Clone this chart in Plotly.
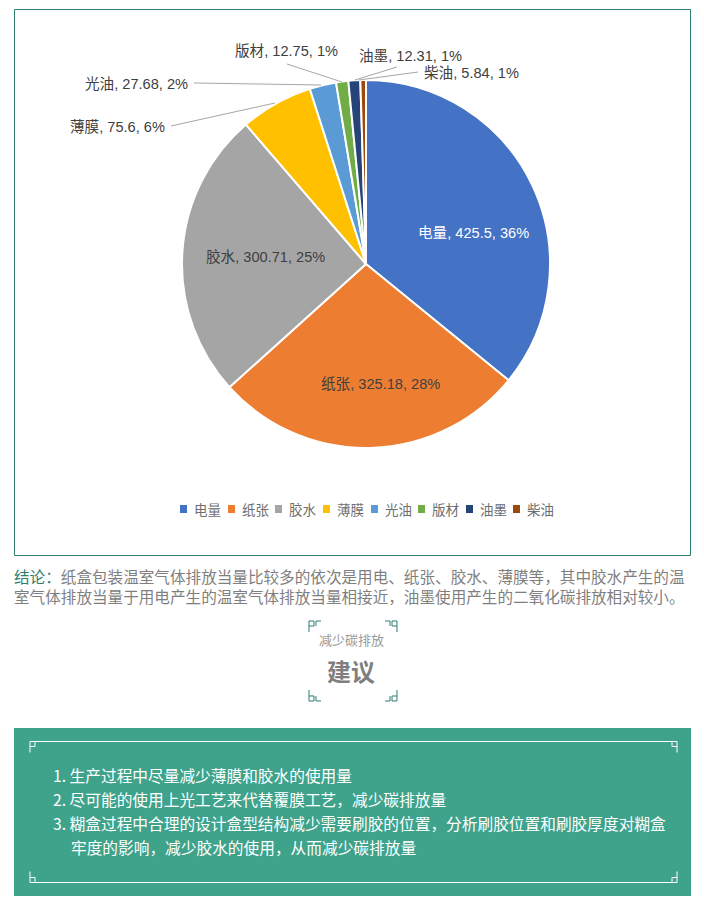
import plotly.graph_objects as go

categories = ["电量", "纸张", "胶水", "薄膜", "光油", "版材", "油墨", "柴油"]
values = [425.5, 325.18, 300.71, 75.6, 27.68, 12.75, 12.31, 5.84]
shown_percent = [36, 28, 25, 6, 2, 1, 1, 1]
colors = ["#4472C4", "#ED7D31", "#A5A5A5", "#FFC000", "#5B9BD5", "#70AD47", "#264478", "#9E480E"]

conclusion_head = "结论："
conclusion_line1 = "纸盒包装温室气体排放当量比较多的依次是用电、纸张、胶水、薄膜等，其中胶水产生的温"
conclusion_line2 = "室气体排放当量于用电产生的温室气体排放当量相接近，油墨使用产生的二氧化碳排放相对较小。"
advice_sub = "减少碳排放"
advice_title = "建议"
advice_lines = [
    "1. 生产过程中尽量减少薄膜和胶水的使用量",
    "2. 尽可能的使用上光工艺来代替覆膜工艺，减少碳排放量",
    "3. 糊盒过程中合理的设计盒型结构减少需要刷胶的位置，分析刷胶位置和刷胶厚度对糊盒",
    "牢度的影响，减少胶水的使用，从而减少碳排放量",
]

W, H = 704, 904
FONT = "Liberation Sans, Noto Sans CJK SC, sans-serif"
CJK = "Noto Sans CJK SC, sans-serif"
GREEN = "#3FA38C"
FRAME = "#2E7D6F"
GRAY = "#7F7F7F"
DARK = "#404040"


def px(x):
    return x / W


def py(y):
    return 1 - y / H


shapes, ann = [], []


def rect(x0, y0, x1, y1, fill=None, line=None, lw=1):
    shapes.append(dict(type="rect", xref="paper", yref="paper", x0=px(x0), x1=px(x1), y0=py(y0), y1=py(y1),
                       fillcolor=fill or "rgba(0,0,0,0)", line=dict(color=line, width=lw if line else 0), layer="below"))


def path(points, color, lw=1):
    d = "M" + " L".join(f"{px(a):.5f},{py(b):.5f}" for a, b in points)
    shapes.append(dict(type="path", xref="paper", yref="paper", path=d, line=dict(color=color, width=lw)))


def text(x, y, s, size=14, color=DARK, anchor="left", bold=False, family=FONT):
    ann.append(dict(xref="paper", yref="paper", x=px(x), y=py(y), text=f"<b>{s}</b>" if bold else s, showarrow=False,
                    xanchor=anchor, yanchor="middle", align="left" if anchor == "left" else "center",
                    borderpad=0, borderwidth=0, font=dict(size=size, color=color, family=family)))


def fret(cx, cy, sx, sy, color, lw=1, arm=True):
    pts = [(0, 11), (0, 0), (5, 0), (5, 5), (0, 5)]
    path([(cx + sx * a, cy + sy * b) for a, b in pts], color, lw)
    if arm:
        path([(cx + sx * 12, cy), (cx + sx * 7, cy), (cx + sx * 7, cy + sy * 5)], color, lw)


# chart frame
rect(14.5, 9.5, 690.5, 555.5, line=FRAME, lw=1)

# data labels
label_text = [f"{c}, {v}, {p}%" for c, v, p in zip(categories, values, shown_percent)]
label_spec = [
    (473, 233, "center", "#FFFFFF"),
    (380, 384, "center", DARK),
    (265, 257, "center", DARK),
    (70, 127, "left", DARK),
    (85, 84, "left", DARK),
    (235, 51, "left", DARK),
    (359, 56, "left", DARK),
    (424, 73, "left", DARK),
]
for t, (x, y, a, c) in zip(label_text, label_spec):
    text(x, y, t, size=14.6, color=c, anchor=a)

for seg in [
    [(171, 126), (275, 103)],
    [(194, 83), (321, 85)],
    [(287, 64), (342, 82)],
    [(397, 67), (355, 80)],
    [(418, 72), (359, 80)],
]:
    path(seg, "#A6A6A6", 1)

# legend
legend_x = [180, 228, 275, 323, 371, 418, 466, 513]
for c, col, x in zip(categories, colors, legend_x):
    rect(x, 505, x + 7, 513, fill=col)
    text(x + 14, 509, c, size=13.5, color="#6E6E6E", family=CJK)

# conclusion text
conclusion = (f'<span style="color:{FRAME}">{conclusion_head}</span>{conclusion_line1}<br>{conclusion_line2}')
text(14, 585.5, conclusion, size=15.6, color=GRAY, family=CJK)

# heading ornament
fret(309, 621, 1, 1, FRAME)
fret(397, 621, -1, 1, FRAME)
fret(309, 701, 1, -1, FRAME)
fret(397, 701, -1, -1, FRAME)
text(351.5, 639, advice_sub, size=13, color="#9A9A9A", anchor="center", family=CJK)
text(351, 670, advice_title, size=24, color=GRAY, anchor="center", bold=True, family=CJK)

# advice panel
rect(14, 728, 691, 896, fill=GREEN)
path([(35, 741.5), (672, 741.5)], "#FFFFFF")
path([(35, 882.5), (672, 882.5)], "#FFFFFF")
fret(30, 741.5, 1, 1, "#FFFFFF", arm=False)
fret(677, 741.5, -1, 1, "#FFFFFF", arm=False)
fret(30, 882.5, 1, -1, "#FFFFFF", arm=False)
fret(677, 882.5, -1, -1, "#FFFFFF", arm=False)
for s, x, y in zip(advice_lines, [53, 53, 53, 71], [775, 799, 823, 847]):
    text(x, y, s, size=15.7, color="#FFFFFF", family=CJK)

pie = go.Pie(
    labels=categories, values=values, sort=False, direction="clockwise", rotation=0,
    textinfo="none", hoverinfo="label+value+percent",
    marker=dict(colors=colors, line=dict(color="#FFFFFF", width=2)),
    domain=dict(x=[px(182), px(550)], y=[py(448), py(80)]),
)

fig = go.Figure(pie)
fig.update_layout(width=W, height=H, margin=dict(l=0, r=0, t=0, b=0), showlegend=False,
                  paper_bgcolor="#FFFFFF", shapes=shapes, annotations=ann, font=dict(family=FONT))
fig.write_html("out.html", post_script="document.body.style.margin='0';", config=dict(displayModeBar=False))
